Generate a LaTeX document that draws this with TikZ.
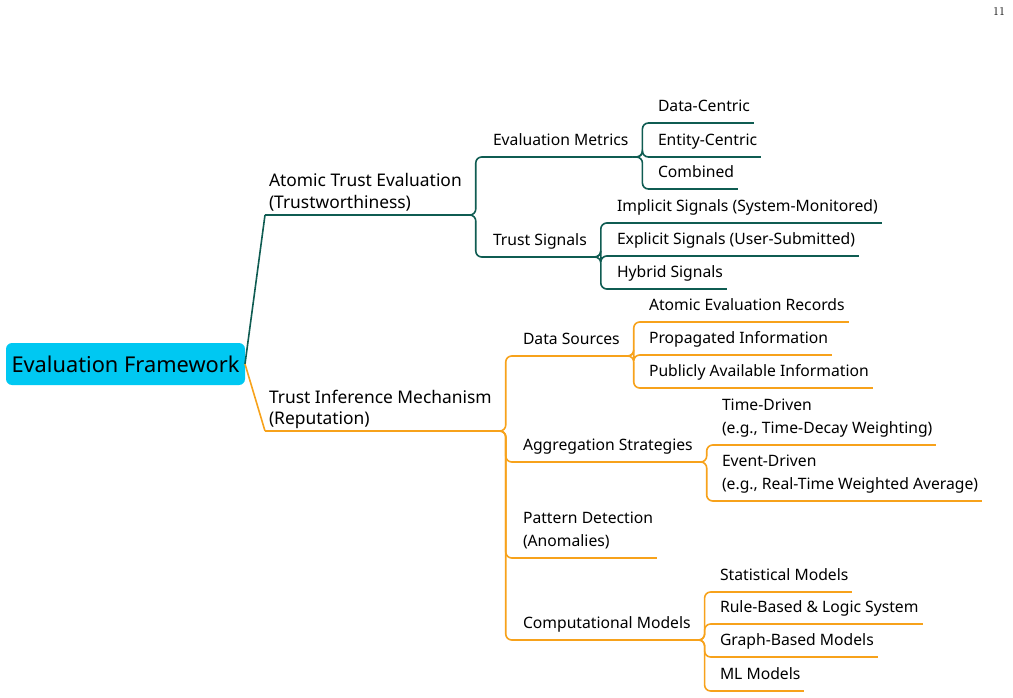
\documentclass[tikz,border=0pt]{standalone}
\usepackage{fontspec}
\setsansfont{Noto Sans}
\definecolor{branchteal}{HTML}{0F5C52}
\definecolor{branchorange}{HTML}{F7A21B}
\definecolor{rootcyan}{HTML}{00C8F2}
\tikzset{
  topic/.style={anchor=south west, align=left, inner xsep=4pt, inner ysep=0pt, outer sep=0pt,
    font=\sffamily\fontsize{15.7}{23}\selectfont, text depth=11.5pt},
  maintopic/.style={topic, font=\sffamily\fontsize{17.4}{21}\selectfont, text depth=7pt},
  tealline/.style={draw=branchteal, line width=1.6pt, rounded corners=6pt},
  orangeline/.style={draw=branchorange, line width=1.6pt, rounded corners=6pt}
}
\begin{document}
\begin{tikzpicture}[x=1pt,y=-1pt]
  \useasboundingbox (0,0) rectangle (1013,698);
  \node (page) at (999,12) {\fontsize{12}{13}\selectfont 11};
  \node[fill=rootcyan, rounded corners=6pt, minimum width=239pt, minimum height=42pt,
    inner sep=0pt, outer sep=0pt, font=\sffamily\fontsize{21.8}{24}\selectfont] (root) at (125.5,364) {Evaluation Framework};
  % atomic branch
  \node[maintopic] (ate) at (265,215) {Atomic Trust Evaluation\\(Trustworthiness)};
  \node[topic] (em) at (489,157) {Evaluation Metrics};
  \node[topic] (ts) at (489,257) {Trust Signals};
  \node[topic] (dc) at (654,123) {Data-Centric};
  \node[topic] (ec) at (654,157) {Entity-Centric};
  \node[topic] (cb) at (654,189) {Combined};
  \node[topic] (imp) at (613,223) {Implicit Signals (System-Monitored)};
  \node[topic] (exp) at (613,256) {Explicit Signals (User-Submitted)};
  \node[topic] (hyb) at (613,289) {Hybrid Signals};
  % inference branch
  \node[maintopic] (tim) at (265,431) {Trust Inference Mechanism\\(Reputation)};
  \node[topic] (ds) at (519,356) {Data Sources};
  \node[topic] (as) at (519,462) {Aggregation Strategies};
  \node[topic] (pd) at (519,558) {Pattern Detection\\(Anomalies)};
  \node[topic] (cm) at (519,640) {Computational Models};
  \node[topic] (aer) at (645,322) {Atomic Evaluation Records};
  \node[topic] (pi) at (645,355) {Propagated Information};
  \node[topic] (pai) at (645,388) {Publicly Available Information};
  \node[topic] (td) at (718,445) {Time-Driven\\(e.g., Time-Decay Weighting)};
  \node[topic] (ed) at (718,501) {Event-Driven\\(e.g., Real-Time Weighted Average)};
  \node[topic] (sm) at (716,592) {Statistical Models};
  \node[topic] (rb) at (716,624) {Rule-Based \& Logic System};
  \node[topic] (gb) at (716,657) {Graph-Based Models};
  \node[topic] (ml) at (716,691) {ML Models};
  % underlines
  \foreach \n in {ate,em,ts,dc,ec,cb,imp,exp,hyb}
    \draw[tealline] (\n.south west) -- (\n.south east);
  \foreach \n in {tim,ds,as,pd,cm,aer,pi,pai,td,ed,sm,rb,gb,ml}
    \draw[orangeline] (\n.south west) -- (\n.south east);
  % connectors
  \draw[tealline] (root.east) -- (ate.south west);
  \draw[orangeline] (root.east) -- (tim.south west);
  \foreach \p/\c in {ate/em,ate/ts,em/dc,em/ec,em/cb,ts/imp,ts/exp,ts/hyb}
    \draw[tealline] (\p.south east) -- ++(10,0) |- (\c.south west);
  \foreach \p/\c in {tim/ds,tim/as,tim/pd,tim/cm,ds/aer,ds/pi,ds/pai,as/td,as/ed,cm/sm,cm/rb,cm/gb,cm/ml}
    \draw[orangeline] (\p.south east) -- ++(10,0) |- (\c.south west);
\end{tikzpicture}
\end{document}
